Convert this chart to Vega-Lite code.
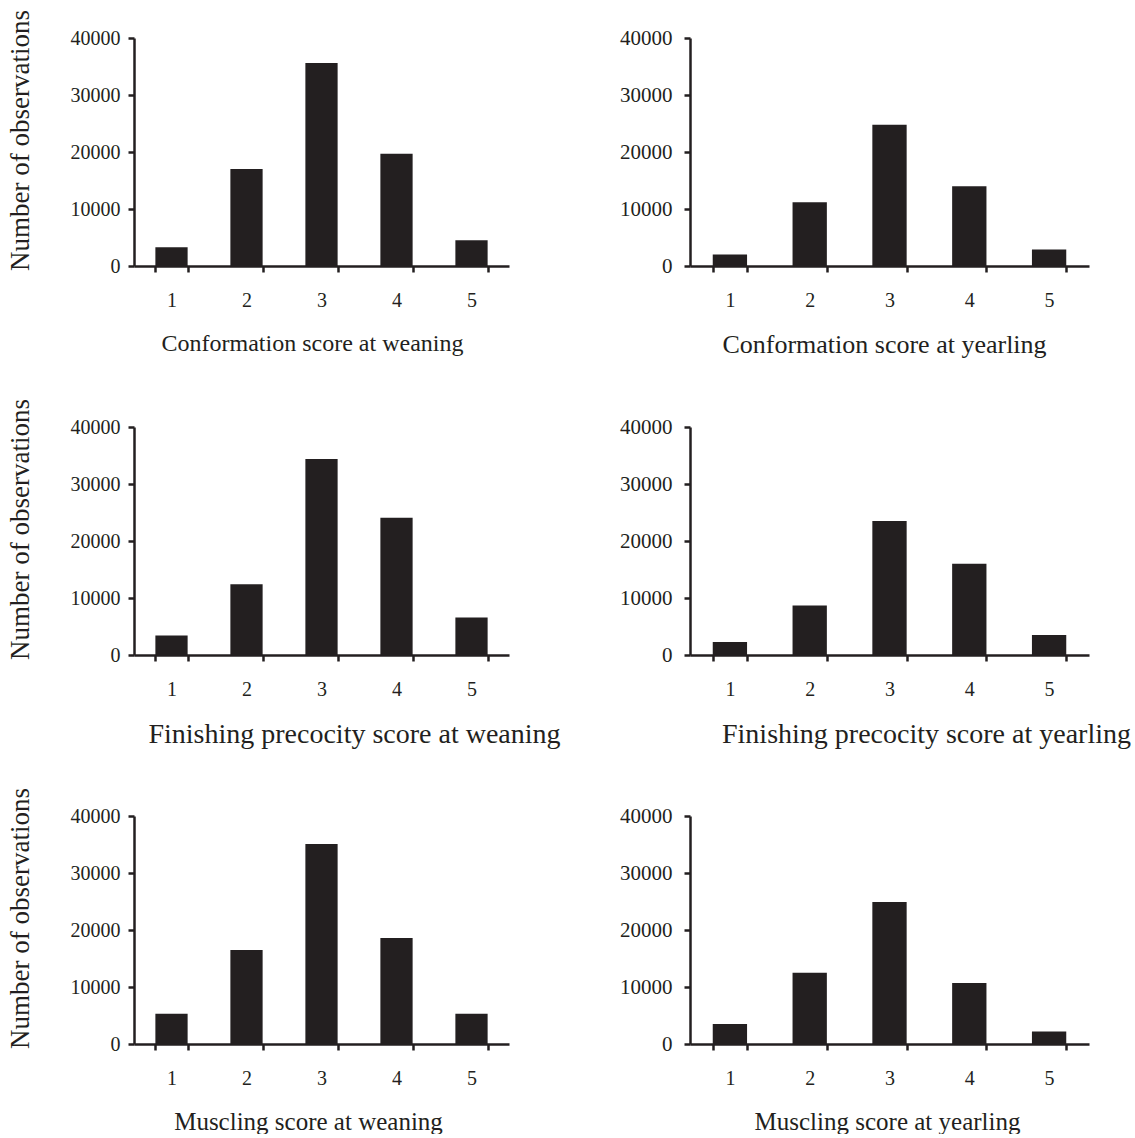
{
  "$schema": "https://vega.github.io/schema/vega-lite/v6.json",
  "background": "white",
  "padding": {"left": 6, "top": 9, "right": 0, "bottom": 0},
  "data": {"values": [
    {"panel": "cw", "score": "1", "count": 3300},
    {"panel": "cw", "score": "2", "count": 17000},
    {"panel": "cw", "score": "3", "count": 35600},
    {"panel": "cw", "score": "4", "count": 19700},
    {"panel": "cw", "score": "5", "count": 4500},
    {"panel": "cy", "score": "1", "count": 2000},
    {"panel": "cy", "score": "2", "count": 11200},
    {"panel": "cy", "score": "3", "count": 24800},
    {"panel": "cy", "score": "4", "count": 14000},
    {"panel": "cy", "score": "5", "count": 2900},
    {"panel": "fw", "score": "1", "count": 3400},
    {"panel": "fw", "score": "2", "count": 12400},
    {"panel": "fw", "score": "3", "count": 34400},
    {"panel": "fw", "score": "4", "count": 24100},
    {"panel": "fw", "score": "5", "count": 6600},
    {"panel": "fy", "score": "1", "count": 2300},
    {"panel": "fy", "score": "2", "count": 8700},
    {"panel": "fy", "score": "3", "count": 23500},
    {"panel": "fy", "score": "4", "count": 16000},
    {"panel": "fy", "score": "5", "count": 3500},
    {"panel": "mw", "score": "1", "count": 5300},
    {"panel": "mw", "score": "2", "count": 16500},
    {"panel": "mw", "score": "3", "count": 35100},
    {"panel": "mw", "score": "4", "count": 18600},
    {"panel": "mw", "score": "5", "count": 5300},
    {"panel": "my", "score": "1", "count": 3500},
    {"panel": "my", "score": "2", "count": 12500},
    {"panel": "my", "score": "3", "count": 24900},
    {"panel": "my", "score": "4", "count": 10700},
    {"panel": "my", "score": "5", "count": 2200}
  ]},
  "columns": 2,
  "bounds": "flush",
  "align": "each",
  "spacing": {"row": 161, "column": 181},
  "concat": [
    {
      "width": 375, "height": 228,
      "transform": [{"filter": "datum.panel === 'cw'"}],
      "mark": {"type": "bar"},
      "encoding": {
        "x": {"field": "score", "type": "ordinal", "scale": {"paddingInner": 0.57, "paddingOuter": 0.285}, "axis": {"title": "Conformation score at weaning", "titleX": 178, "titleFontSize": 24}},
        "y": {"field": "count", "type": "quantitative", "scale": {"domain": [0, 40000], "nice": false}, "axis": {"title": "Number of observations", "values": [0, 10000, 20000, 30000, 40000], "titleY": 102}}
      }
    },
    {
      "width": 399, "height": 228,
      "transform": [{"filter": "datum.panel === 'cy'"}],
      "mark": {"type": "bar"},
      "encoding": {
        "x": {"field": "score", "type": "ordinal", "scale": {"paddingInner": 0.57, "paddingOuter": 0.285}, "axis": {"title": "Conformation score at yearling", "titleX": 194, "titleFontSize": 26}},
        "y": {"field": "count", "type": "quantitative", "scale": {"domain": [0, 40000], "nice": false}, "axis": {"title": null, "values": [0, 10000, 20000, 30000, 40000], "labelFontSize": 21, "labelPadding": 12}}
      }
    },
    {
      "width": 375, "height": 228,
      "transform": [{"filter": "datum.panel === 'fw'"}],
      "mark": {"type": "bar"},
      "encoding": {
        "x": {"field": "score", "type": "ordinal", "scale": {"paddingInner": 0.57, "paddingOuter": 0.285}, "axis": {"title": "Finishing precocity score at weaning", "titleX": 220, "titleFontSize": 28}},
        "y": {"field": "count", "type": "quantitative", "scale": {"domain": [0, 40000], "nice": false}, "axis": {"title": "Number of observations", "values": [0, 10000, 20000, 30000, 40000], "titleY": 102}}
      }
    },
    {
      "width": 399, "height": 228,
      "transform": [{"filter": "datum.panel === 'fy'"}],
      "mark": {"type": "bar"},
      "encoding": {
        "x": {"field": "score", "type": "ordinal", "scale": {"paddingInner": 0.57, "paddingOuter": 0.285}, "axis": {"title": "Finishing precocity score at yearling", "titleX": 236, "titleFontSize": 28}},
        "y": {"field": "count", "type": "quantitative", "scale": {"domain": [0, 40000], "nice": false}, "axis": {"title": null, "values": [0, 10000, 20000, 30000, 40000], "labelFontSize": 21, "labelPadding": 12}}
      }
    },
    {
      "width": 375, "height": 228,
      "transform": [{"filter": "datum.panel === 'mw'"}],
      "mark": {"type": "bar"},
      "encoding": {
        "x": {"field": "score", "type": "ordinal", "scale": {"paddingInner": 0.57, "paddingOuter": 0.285}, "axis": {"title": "Muscling score at weaning", "titleX": 174, "titleFontSize": 25}},
        "y": {"field": "count", "type": "quantitative", "scale": {"domain": [0, 40000], "nice": false}, "axis": {"title": "Number of observations", "values": [0, 10000, 20000, 30000, 40000], "titleY": 102}}
      }
    },
    {
      "width": 399, "height": 228,
      "transform": [{"filter": "datum.panel === 'my'"}],
      "mark": {"type": "bar"},
      "encoding": {
        "x": {"field": "score", "type": "ordinal", "scale": {"paddingInner": 0.57, "paddingOuter": 0.285}, "axis": {"title": "Muscling score at yearling", "titleX": 197, "titleFontSize": 25}},
        "y": {"field": "count", "type": "quantitative", "scale": {"domain": [0, 40000], "nice": false}, "axis": {"title": null, "values": [0, 10000, 20000, 30000, 40000], "labelFontSize": 21, "labelPadding": 12}}
      }
    }
  ],
  "config": {
    "font": "Liberation Serif",
    "view": {"stroke": null},
    "bar": {"color": "#231f20"},
    "axis": {
      "grid": false,
      "domainColor": "#231f20",
      "tickColor": "#231f20",
      "labelColor": "#231f20",
      "titleColor": "#231f20",
      "labelFont": "Liberation Serif",
      "titleFont": "Liberation Serif",
      "labelFontSize": 20,
      "titleFontSize": 25,
      "titleFontWeight": "normal",
      "domainWidth": 2.5,
      "tickWidth": 2.5,
      "tickSize": 6
    },
    "axisX": {"labelAngle": 0, "tickBand": "extent", "labelPadding": 18, "titlePadding": 21},
    "axisY": {"format": "d", "labelPadding": 8, "titlePadding": 36, "titleFontSize": 27}
  }
}
